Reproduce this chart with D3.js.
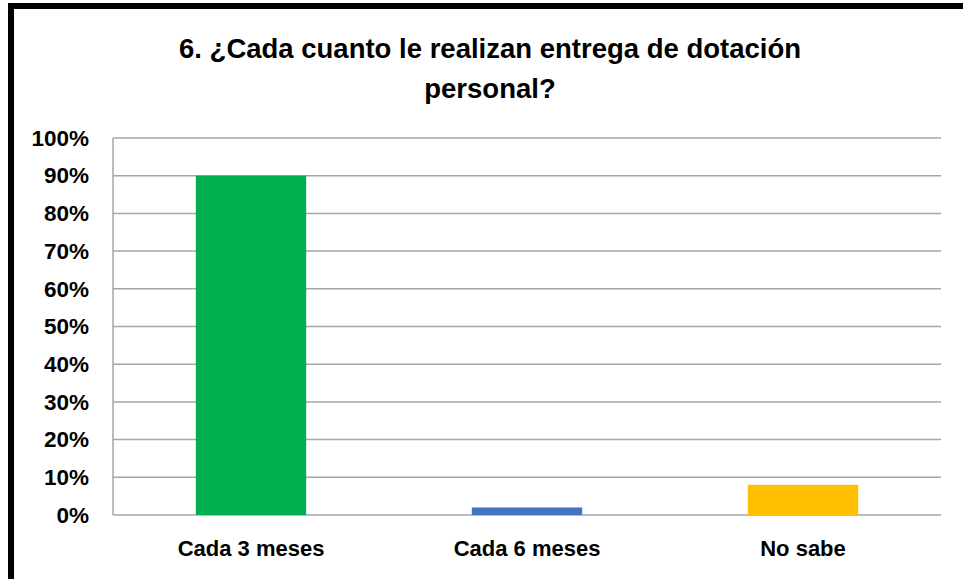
<!DOCTYPE html>
<html>
<head>
<meta charset="utf-8">
<script src="https://cdn.jsdelivr.net/npm/d3@7"></script>
<style>
  body { margin: 0; background: #fff; }
  text { font-family: "Liberation Sans", Arial, sans-serif; font-weight: bold; fill: #000; }
</style>
</head>
<body>
<div id="chart"></div>
<script>
// chart data
const categories = ["Cada 3 meses", "Cada 6 meses", "No sabe"];
const values = [0.90, 0.02, 0.08];
const barColors = ["#00b050", "#4472c4", "#ffc000"];
const yTicks = [0, 0.1, 0.2, 0.3, 0.4, 0.5, 0.6, 0.7, 0.8, 0.9, 1.0];
const titleLines = ["6. ¿Cada cuanto le realizan entrega de dotación", "personal?"];

const W = 963, H = 579;
const plot = { left: 113, top: 138, right: 941, bottom: 515 };

var svg = d3.select("#chart")
    .append("svg")
    .attr("width", W)
    .attr("height", H);

// outer frame (only top and left visible in the crop)
svg.append("path")
    .attr("d", "M11,579 L11,6 L963,6")
    .attr("fill", "none")
    .attr("stroke", "#000")
    .attr("stroke-width", 6);

var xScale = d3.scaleBand()
    .domain(categories)
    .range([plot.left, plot.right])
    .paddingInner(0.6)
    .paddingOuter(0.3);

var yScale = d3.scaleLinear()
    .domain([0, 1])
    .range([plot.bottom, plot.top]);

// title
svg.append("g").selectAll("text")
    .data(titleLines)
    .enter()
    .append("text")
    .attr("x", 490)
    .attr("y", (d, i) => 58 + i * 40)
    .attr("text-anchor", "middle")
    .style("font-size", "27.5px")
    .text(d => d);

// gridlines
svg.append("g")
    .selectAll("line")
    .data(yTicks)
    .enter()
    .append("line")
    .attr("x1", plot.left)
    .attr("x2", plot.right)
    .attr("y1", d => yScale(d))
    .attr("y2", d => yScale(d))
    .attr("stroke", "#a6a6a6")
    .attr("stroke-width", 1.5);

// left axis line
svg.append("line")
    .attr("x1", plot.left).attr("x2", plot.left)
    .attr("y1", plot.top).attr("y2", plot.bottom)
    .attr("stroke", "#a6a6a6")
    .attr("stroke-width", 1.5);

// bars
svg.append("g")
    .selectAll("rect")
    .data(values)
    .enter()
    .append("rect")
    .attr("x", (d, i) => xScale(categories[i]))
    .attr("width", xScale.bandwidth())
    .attr("y", d => yScale(d))
    .attr("height", d => plot.bottom - yScale(d))
    .attr("fill", (d, i) => barColors[i]);

// y axis labels
var yAxis = svg.append("g")
    .attr("transform", "translate(" + plot.left + ",0)")
    .call(d3.axisLeft(yScale).tickValues(yTicks).tickFormat(d3.format(".0%")).tickSize(0).tickPadding(24));
yAxis.select(".domain").remove();
yAxis.selectAll("text")
    .style("font-size", "22.5px")
    .style("font-family", "\"Liberation Sans\", Arial, sans-serif")
    .attr("fill", "#000");

// x axis labels
var xLabels = d3.scaleBand().domain(categories).range([plot.left, plot.right]);
var xAxis = svg.append("g")
    .attr("transform", "translate(0," + plot.bottom + ")")
    .call(d3.axisBottom(xLabels).tickSize(0).tickPadding(25));
xAxis.select(".domain").remove();
xAxis.selectAll("text")
    .style("font-size", "22px")
    .style("font-family", "\"Liberation Sans\", Arial, sans-serif")
    .attr("fill", "#000");
</script>
</body>
</html>
